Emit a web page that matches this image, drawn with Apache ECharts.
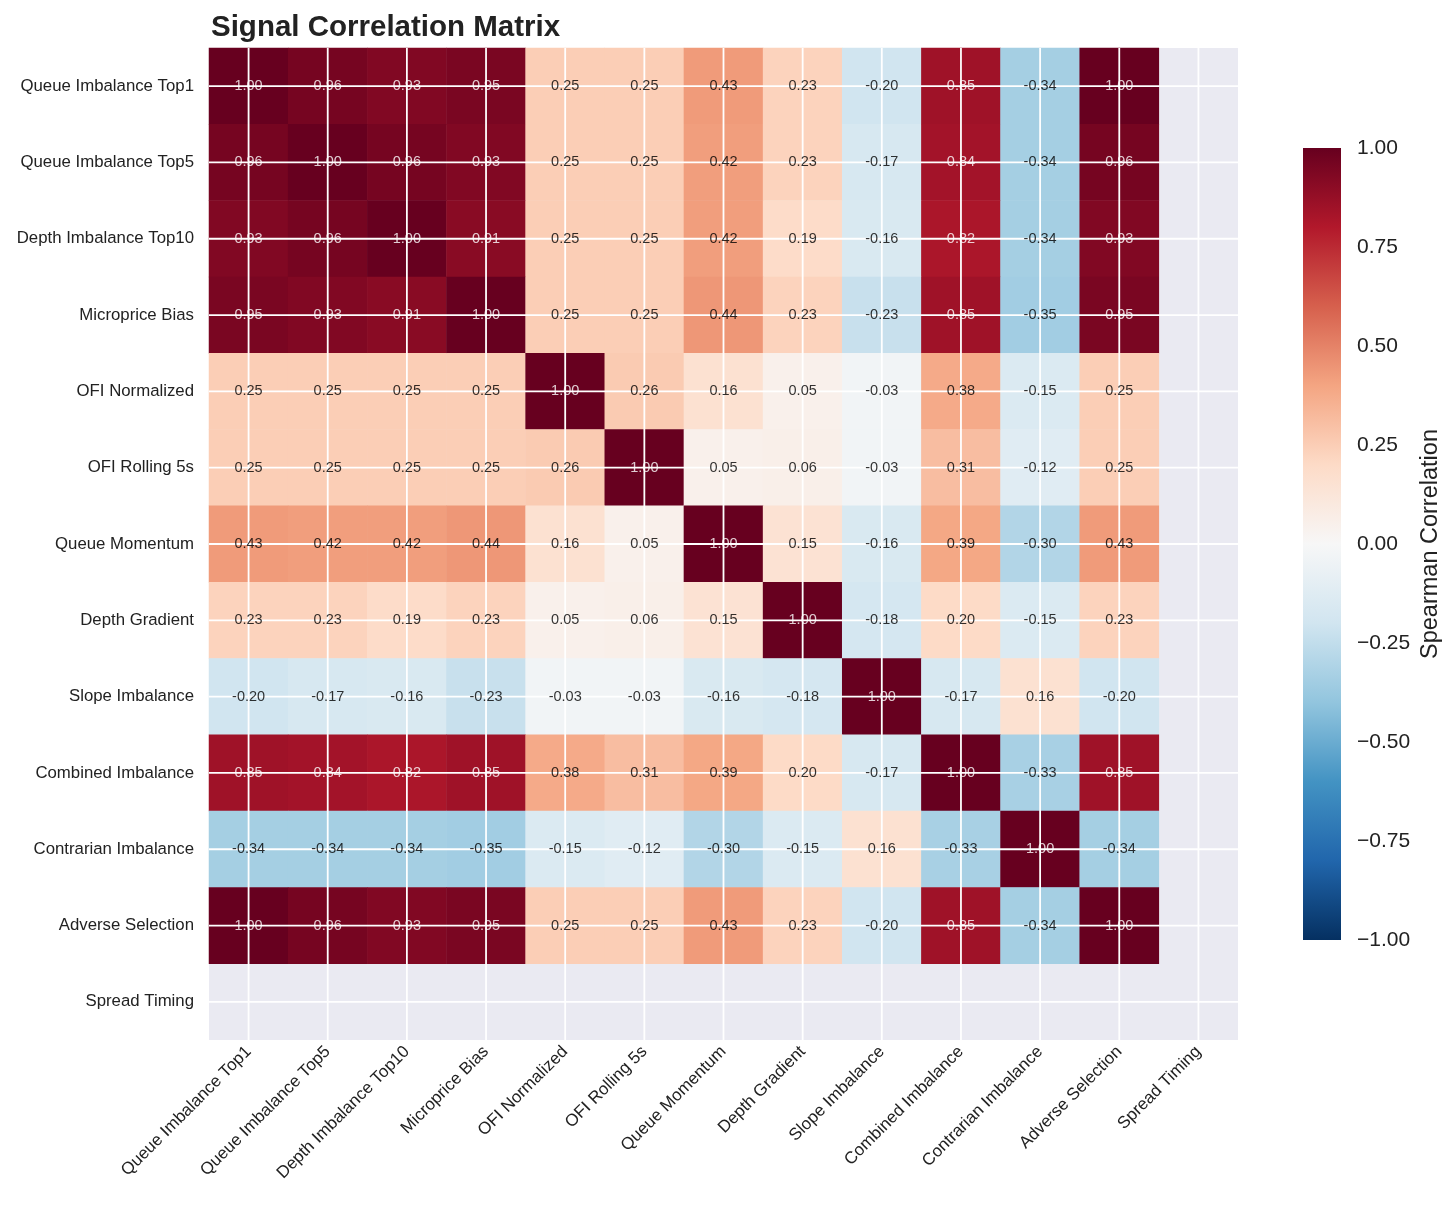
<!DOCTYPE html>
<html>
<head>
<meta charset="utf-8">
<script src="https://cdn.jsdelivr.net/npm/echarts@6/dist/echarts.min.js"></script>
<style>
html,body{margin:0;padding:0;background:#fff;}
#chart{width:1456px;height:1208px;}
</style>
</head>
<body>
<div id="chart"></div>
<script>
const categories = [
  'Queue Imbalance Top1','Queue Imbalance Top5','Depth Imbalance Top10','Microprice Bias',
  'OFI Normalized','OFI Rolling 5s','Queue Momentum','Depth Gradient','Slope Imbalance',
  'Combined Imbalance','Contrarian Imbalance','Adverse Selection','Spread Timing'
];
// rows: correlation of each signal (Spread Timing has no values)
const rowQueueTop1     = [1.00, 0.96, 0.93, 0.95, 0.25, 0.25, 0.43, 0.23, -0.20, 0.85, -0.34, 1.00, null];
const rowQueueTop5     = [0.96, 1.00, 0.96, 0.93, 0.25, 0.25, 0.42, 0.23, -0.17, 0.84, -0.34, 0.96, null];
const rowDepthTop10    = [0.93, 0.96, 1.00, 0.91, 0.25, 0.25, 0.42, 0.19, -0.16, 0.82, -0.34, 0.93, null];
const rowMicroprice    = [0.95, 0.93, 0.91, 1.00, 0.25, 0.25, 0.44, 0.23, -0.23, 0.85, -0.35, 0.95, null];
const rowOfiNorm       = [0.25, 0.25, 0.25, 0.25, 1.00, 0.26, 0.16, 0.05, -0.03, 0.38, -0.15, 0.25, null];
const rowOfiRolling    = [0.25, 0.25, 0.25, 0.25, 0.26, 1.00, 0.05, 0.06, -0.03, 0.31, -0.12, 0.25, null];
const rowQueueMomentum = [0.43, 0.42, 0.42, 0.44, 0.16, 0.05, 1.00, 0.15, -0.16, 0.39, -0.30, 0.43, null];
const rowDepthGradient = [0.23, 0.23, 0.19, 0.23, 0.05, 0.06, 0.15, 1.00, -0.18, 0.20, -0.15, 0.23, null];
const rowSlope         = [-0.20, -0.17, -0.16, -0.23, -0.03, -0.03, -0.16, -0.18, 1.00, -0.17, 0.16, -0.20, null];
const rowCombined      = [0.85, 0.84, 0.82, 0.85, 0.38, 0.31, 0.39, 0.20, -0.17, 1.00, -0.33, 0.85, null];
const rowContrarian    = [-0.34, -0.34, -0.34, -0.35, -0.15, -0.12, -0.30, -0.15, 0.16, -0.33, 1.00, -0.34, null];
const rowAdverse       = [1.00, 0.96, 0.93, 0.95, 0.25, 0.25, 0.43, 0.23, -0.20, 0.85, -0.34, 1.00, null];
const rowSpreadTiming  = [null, null, null, null, null, null, null, null, null, null, null, null, null];
const matrixRows = [rowQueueTop1, rowQueueTop5, rowDepthTop10, rowMicroprice, rowOfiNorm, rowOfiRolling,
  rowQueueMomentum, rowDepthGradient, rowSlope, rowCombined, rowContrarian, rowAdverse, rowSpreadTiming];
const colorbarTicks = [-1, -0.75, -0.5, -0.25, 0, 0.25, 0.5, 0.75, 1];

const rdbuR = ['#053061','#2166ac','#4393c3','#92c5de','#d1e5f0','#f7f7f7','#fddbc7','#f4a582','#d6604d','#b2182b','#67001f'];
const FONT = '"Liberation Sans", Arial, sans-serif';

const heatData = [];
const labelData = [];
matrixRows.forEach((row, r) => {
  row.forEach((v, c) => {
    if (v === null) return;
    heatData.push([c, r, v]);
    labelData.push({
      value: [c, r, v],
      label: { color: Math.abs(v) > 0.5 ? '#ffffff' : '#000000' }
    });
  });
});

const chart = echarts.init(document.getElementById('chart'), null, { renderer: 'canvas' });
chart.setOption({
  backgroundColor: '#ffffff',
  animation: false,
  title: {
    text: 'Signal Correlation Matrix',
    left: 206, top: 8,
    textStyle: { fontFamily: FONT, fontWeight: 'bold', fontSize: 29.5, color: '#222222' }
  },
  grid: [
    { left: 209, top: 48, width: 1029, height: 992, show: true, backgroundColor: '#EAEAF2', borderWidth: 0 },
    { left: 1303, top: 148, width: 38, height: 792, show: false }
  ],
  xAxis: [
    {
      type: 'category', data: categories, gridIndex: 0, position: 'bottom',
      axisLine: { show: false }, axisTick: { show: false }, splitLine: { show: false },
      axisLabel: { rotate: 45, fontFamily: FONT, fontSize: 17, color: '#222222', margin: 9, interval: 0 }
    },
    { type: 'value', gridIndex: 1, show: false, min: 0, max: 1 }
  ],
  yAxis: [
    {
      type: 'category', data: categories, gridIndex: 0, inverse: true,
      axisLine: { show: false }, axisTick: { show: false }, splitLine: { show: false },
      axisLabel: { fontFamily: FONT, fontSize: 16.8, color: '#222222', margin: 15, interval: 0 }
    },
    {
      type: 'value', gridIndex: 1, min: -1, max: 1, interval: 0.25, position: 'right',
      axisLine: { show: false }, axisTick: { show: false }, splitLine: { show: false },
      axisLabel: {
        fontFamily: FONT, fontSize: 21, color: '#222222', margin: 16,
        formatter: v => (v < 0 ? '\u2212' : '') + Math.abs(v).toFixed(2)
      },
      name: 'Spearman Correlation', nameLocation: 'middle', nameGap: 78, nameRotate: 90,
      nameTextStyle: { fontFamily: FONT, fontSize: 23.5, color: '#222222' }
    }
  ],
  visualMap: {
    type: 'continuous', min: -1, max: 1, seriesIndex: 0, show: false,
    inRange: { color: rdbuR }
  },
  series: [
    {
      type: 'heatmap', xAxisIndex: 0, yAxisIndex: 0, data: heatData, z: 1,
      itemStyle: { borderWidth: 0 }, label: { show: false }
    },
    {
      type: 'custom', xAxisIndex: 0, yAxisIndex: 0, z: 3, silent: true,
      data: categories.map((c, i) => [i, i]),
      renderItem: (params, api) => {
        const p = api.coord([api.value(0), api.value(1)]);
        const cs = params.coordSys;
        return {
          type: 'group',
          children: [
            { type: 'line', shape: { x1: p[0], y1: cs.y, x2: p[0], y2: cs.y + cs.height }, style: { stroke: '#ffffff', lineWidth: 1.8 } },
            { type: 'line', shape: { x1: cs.x, y1: p[1], x2: cs.x + cs.width, y2: p[1] }, style: { stroke: '#ffffff', lineWidth: 1.8 } }
          ]
        };
      }
    },
    {
      type: 'scatter', xAxisIndex: 0, yAxisIndex: 0, z: 5, silent: true,
      symbolSize: 0, data: labelData,
      label: {
        show: true, position: 'inside', fontFamily: FONT, fontSize: 14.5,
        textBorderWidth: 0, textShadowBlur: 0,
        formatter: p => p.value[2].toFixed(2)
      }
    },
    {
      type: 'custom', xAxisIndex: 1, yAxisIndex: 1, z: 2, silent: true,
      data: [[0, -1, 1]],
      renderItem: (params, api) => {
        const lo = api.coord([0, api.value(1)]);
        const hi = api.coord([1, api.value(2)]);
        const stops = rdbuR.map((c, i) => ({ offset: 1 - i / (rdbuR.length - 1), color: c }));
        stops.reverse();
        return {
          type: 'rect',
          shape: { x: lo[0], y: hi[1], width: hi[0] - lo[0], height: lo[1] - hi[1] },
          style: { fill: new echarts.graphic.LinearGradient(0, 0, 0, 1, stops) }
        };
      }
    }
  ]
});
</script>
</body>
</html>
